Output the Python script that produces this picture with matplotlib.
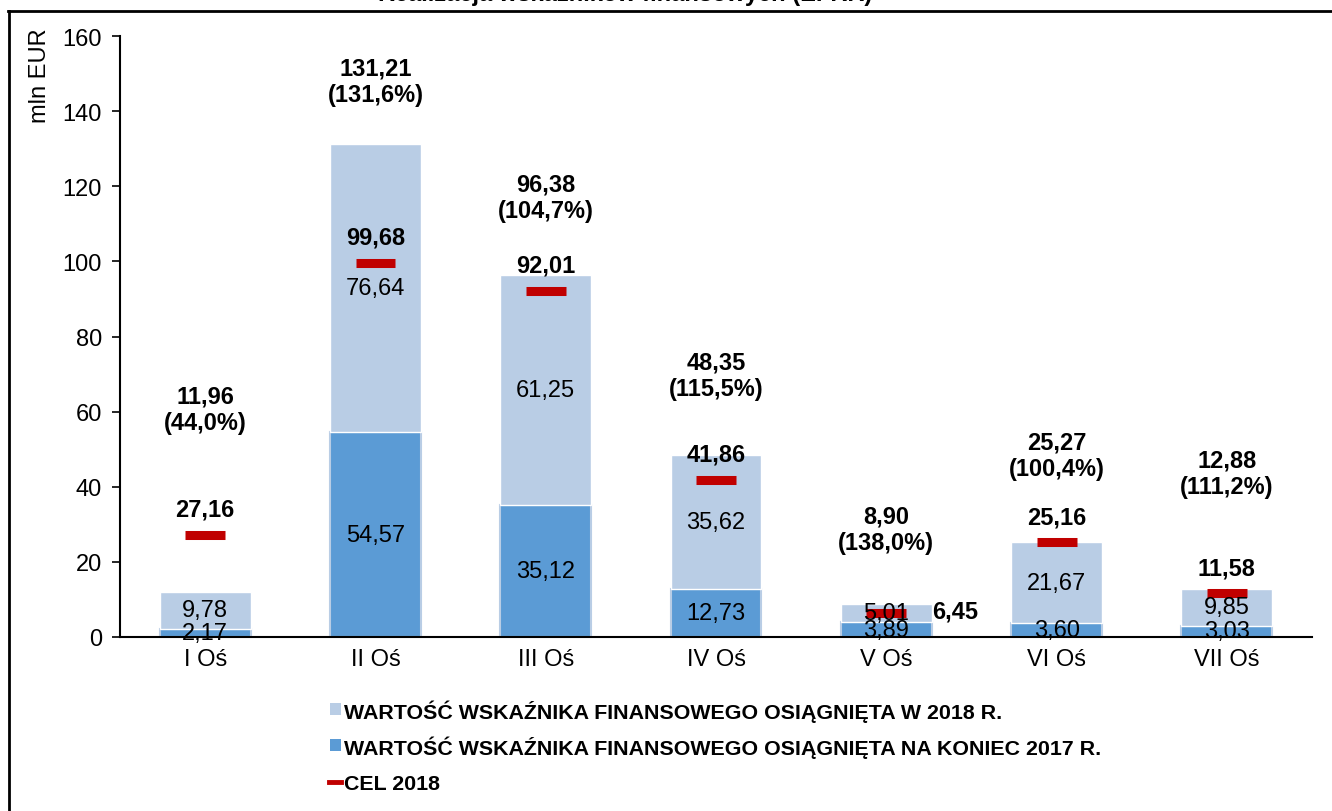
import matplotlib.pyplot as plt
from matplotlib.lines import Line2D
from matplotlib.patches import Rectangle
import numpy as np

plt.rcParams['font.family'] = ['Liberation Sans', 'DejaVu Sans']

# data (mln EUR)
axes_labels = ['I Oś', 'II Oś', 'III Oś', 'IV Oś', 'V Oś', 'VI Oś', 'VII Oś']
end_2017 = [2.17, 54.57, 35.12, 12.73, 3.89, 3.60, 3.03]
in_2018 = [9.78, 76.64, 61.25, 35.62, 5.01, 21.67, 9.85]
totals = [11.96, 131.21, 96.38, 48.35, 8.90, 25.27, 12.88]
target_2018 = [27.16, 99.68, 92.01, 41.86, 6.45, 25.16, 11.58]

# label placement (data units), chosen by hand as in the original
total_label_y = [60.7, 148.0, 117.1, 69.8, 28.8, 48.5, 43.7]
target_label_side = ['top', 'top', 'top', 'top', 'right', 'top', 'top']

legend_labels = ['WARTOŚĆ WSKAŹNIKA FINANSOWEGO OSIĄGNIĘTA W 2018 R.',
                 'WARTOŚĆ WSKAŹNIKA FINANSOWEGO OSIĄGNIĘTA NA KONIEC 2017 R.',
                 'CEL 2018']

LIGHT = '#B9CDE5'
DARK = '#5B9BD5'
RED = '#C00000'
FS = 17
W, H = 1332, 812


def fmt(v):
    return f"{v:.2f}".replace('.', ',')


fig = plt.figure(figsize=(W / 100, H / 100), dpi=100)
ax = fig.add_axes([0.0901, 0.2143, 0.8949, 0.7401])

x = np.arange(len(axes_labels))
w = 0.534
ax.bar(x, end_2017, w, color=DARK, edgecolor=LIGHT, linewidth=1.5, zorder=2)
ax.bar(x, in_2018, w, bottom=end_2017, color=LIGHT, edgecolor='white',
       linewidth=1.0, zorder=2)
ax.hlines(target_2018, x - 0.117, x + 0.117, color=RED, linewidth=6.5,
          zorder=3, capstyle='butt')

for i in range(len(x)):
    ax.text(x[i], end_2017[i] / 2, fmt(end_2017[i]), ha='center', va='center',
            fontsize=FS, zorder=4)
    ax.text(x[i], end_2017[i] + in_2018[i] / 2, fmt(in_2018[i]), ha='center',
            va='center', fontsize=FS, zorder=4)
    if target_label_side[i] == 'top':
        ax.text(x[i], target_2018[i] + 6.9, fmt(target_2018[i]), ha='center',
                va='center', fontsize=FS, fontweight='bold', zorder=4)
    else:
        ax.text(x[i] + 0.27, target_2018[i] + 0.6, fmt(target_2018[i]), ha='left',
                va='center', fontsize=FS, fontweight='bold', zorder=4)
    pct = f"{totals[i] / target_2018[i] * 100:.1f}".replace('.', ',')
    ax.text(x[i], total_label_y[i], f"{fmt(totals[i])}\n({pct}%)", ha='center',
            va='center', fontsize=FS, fontweight='bold', linespacing=1.2)

ax.set_xlim(-0.5, len(x) - 0.5)
ax.set_ylim(0, 160)
ax.set_yticks(np.arange(0, 161, 20))
ax.set_xticks(x)
ax.set_xticklabels(axes_labels, fontsize=FS)
ax.tick_params(axis='x', length=0, pad=8)
ax.tick_params(axis='y', labelsize=FS, length=6, width=1.2, direction='out', pad=7)
for s in ['top', 'right']:
    ax.spines[s].set_visible(False)
for s in ['left', 'bottom']:
    ax.spines[s].set_linewidth(1.5)

fig.text(40 / W, 1 - 76 / H, 'mln EUR', rotation=90, ha='center',
         va='center', fontsize=FS)

# title cut off at the top, as in the source
fig.text(625 / W, 1 - 1.5 / H, 'Realizacja wskaźników finansowych (EFRR)',
         ha='center', va='baseline', fontsize=FS, fontweight='bold')

# frame lines
fig.add_artist(Line2D([8 / W, 1331 / W], [1 - 12 / H, 1 - 12 / H],
                      color='black', linewidth=2, transform=fig.transFigure))
fig.add_artist(Line2D([8.5 / W, 8.5 / W], [0, 1 - 12 / H],
                      color='black', linewidth=2, transform=fig.transFigure))

# legend, drawn by hand so rows are evenly spaced
row_y = [710, 746, 783]
for k, (lab, yy) in enumerate(zip(legend_labels, row_y)):
    if k < 2:
        fig.add_artist(Rectangle((330 / W, 1 - (yy + 6) / H), 11 / W, 12 / H,
                                 facecolor=[LIGHT, DARK][k], edgecolor='none',
                                 transform=fig.transFigure))
    else:
        fig.add_artist(Line2D([329 / W, 341 / W], [1 - yy / H, 1 - yy / H],
                              color=RED, linewidth=3.5,
                              transform=fig.transFigure))
    fig.text(344 / W, 1 - yy / H, lab, ha='left', va='center_baseline',
             fontsize=15.4, fontweight='bold')

fig.savefig('out.png', dpi=100)
